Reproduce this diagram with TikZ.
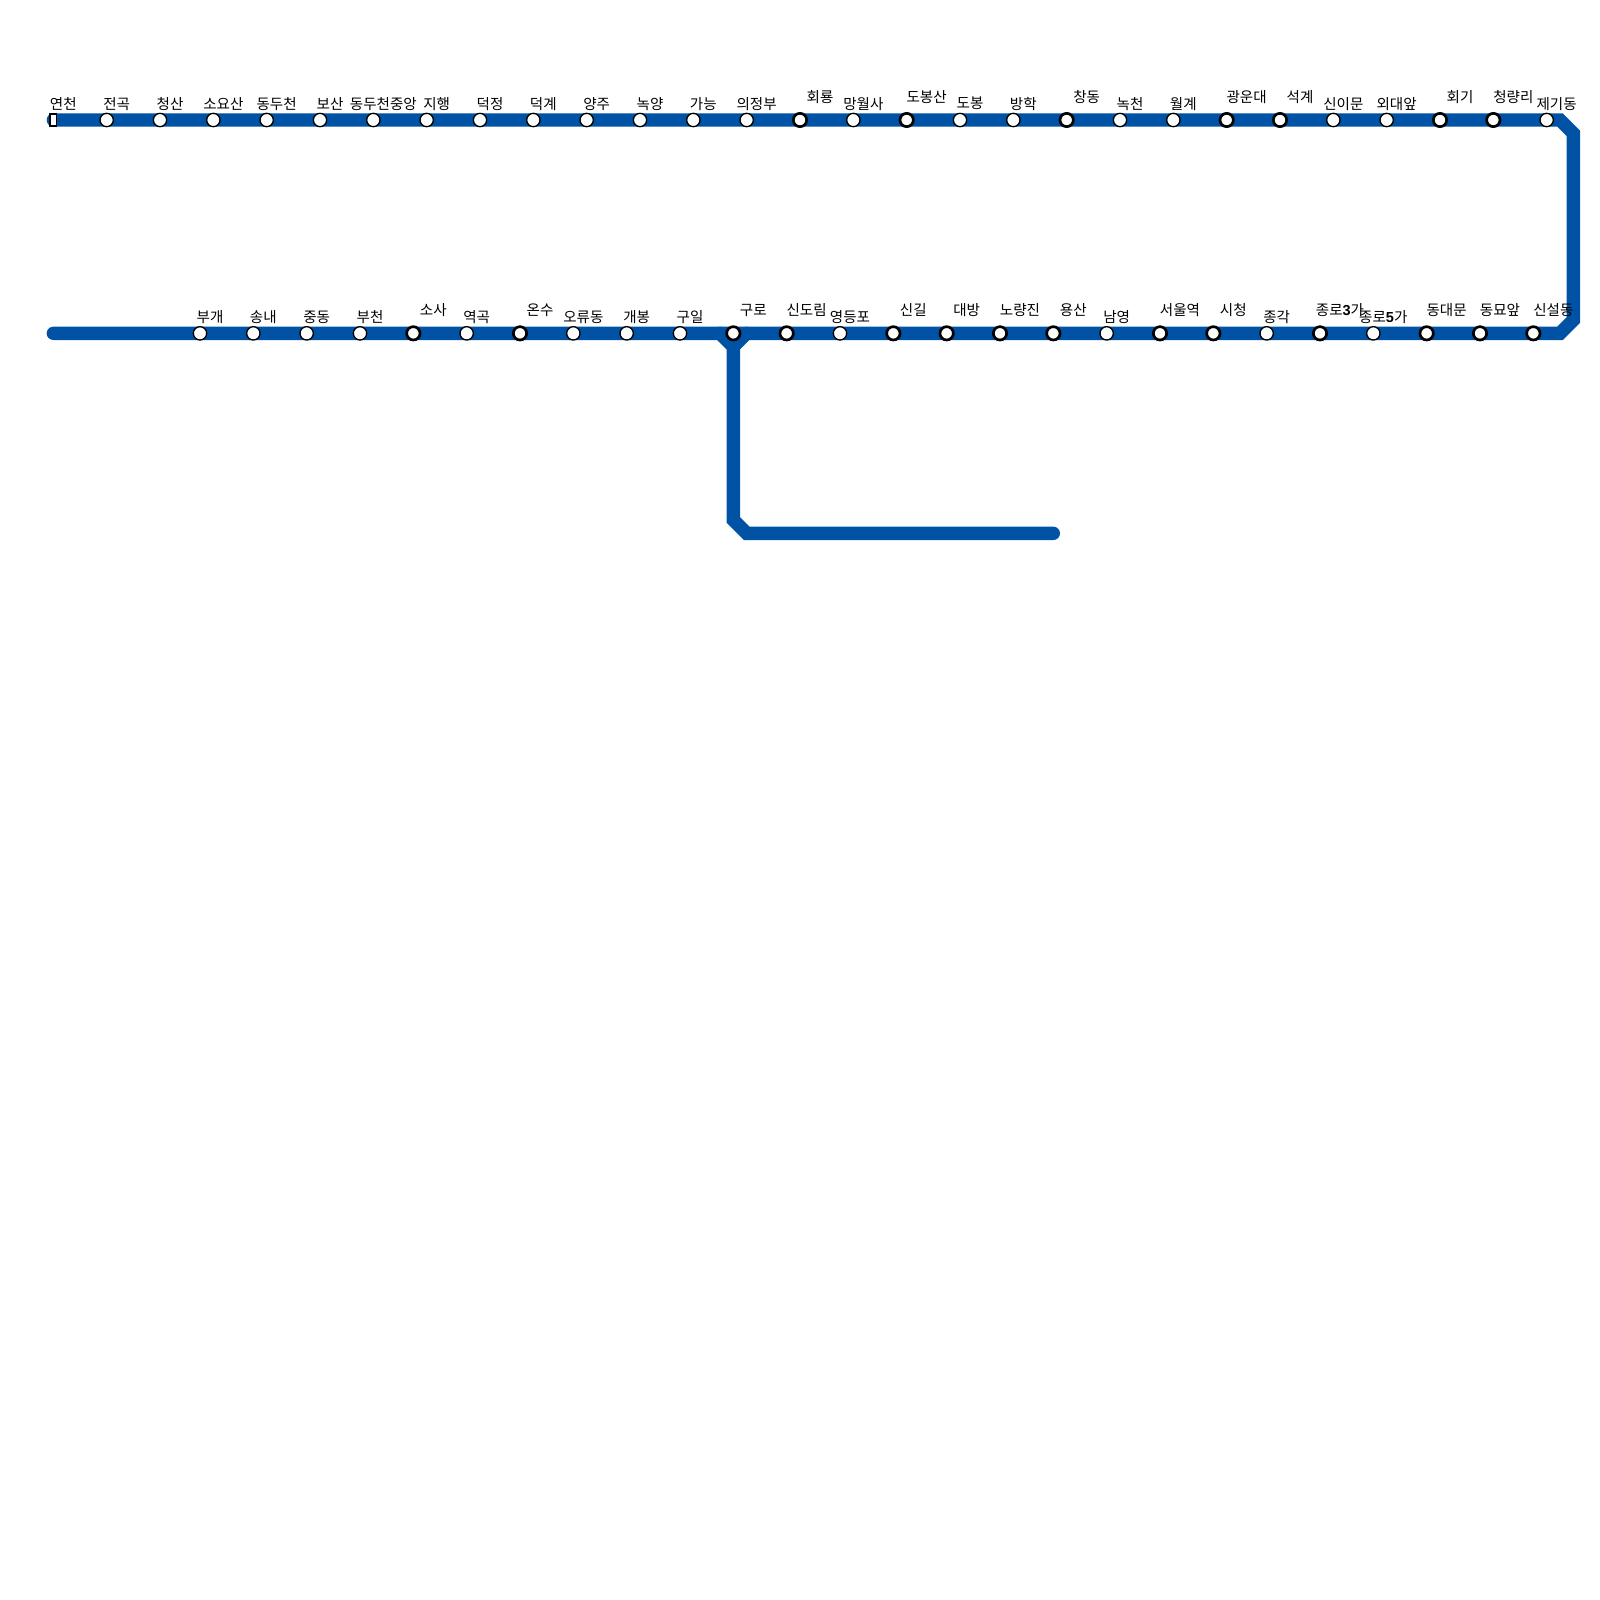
\documentclass[tikz,border=0pt]{standalone}
\usepackage{fontspec}
\setmainfont{Noto Sans CJK KR}
\newfontfamily\digitfont{Liberation Sans}
\usepackage{xcolor}
\usetikzlibrary{calc,positioning}
\definecolor{lineblue}{HTML}{0052A4}
\newcommand{\dg}[1]{{\digitfont\bfseries #1}}

\begin{document}
\begin{tikzpicture}[x=0.75pt, y=-0.75pt, font=\fontsize{10.9pt}{13pt}\selectfont,
    track/.style={draw=lineblue, line width=10pt, line cap=round, line join=miter},
    stn/.style={circle, draw=black, fill=white, line width=1pt, minimum size=10pt, inner sep=0pt},
    xfer/.style={circle, draw=black, fill=white, line width=2pt, minimum size=10pt, inner sep=0pt},
    term/.style={rectangle, draw=black, fill=white, line width=1pt, minimum width=5pt,
                 minimum height=9pt, inner sep=0pt},
    stn-name/.style={inner sep=0pt, text=black, xshift=7.5pt, yshift=12.25pt},
    term-name/.style={stn-name},
    xfer-name/.style={inner sep=0pt, text=black, xshift=15pt, yshift=17.5pt}]
  \useasboundingbox (0,0) rectangle (1600,1600);
  \coordinate (topend) at (53.33,120);
  \coordinate (topbend) at (1560,120);
  \coordinate (sidetop) at (1573.33,133.33);
  \coordinate (sidebot) at (1573.33,320);
  \coordinate (lowbend) at (1560,333.33);
  \coordinate (lowend) at (53.33,333.33);
  \coordinate (forkl) at (720,333.33);
  \coordinate (forkr) at (746.67,333.33);
  \coordinate (forkm) at (733.33,346.67);
  \coordinate (spurbot) at (733.33,520);
  \coordinate (spurbend) at (746.67,533.33);
  \coordinate (spurend) at (1053.33,533.33);
  \draw[track] (topend) -- (topbend) -- (sidetop) -- (sidebot) -- (lowbend) -- (lowend);
  \draw[track] (forkl) -- (forkm) -- (spurbot) -- (spurbend) -- (spurend);
  \draw[track] (forkr) -- (forkm);
  \foreach \k/\t/\st in {0/연천/term, 1/전곡/stn, 2/청산/stn, 3/소요산/stn, 4/동두천/stn,
      5/보산/stn, 6/동두천중앙/stn, 7/지행/stn, 8/덕정/stn, 9/덕계/stn, 10/양주/stn,
      11/녹양/stn, 12/가능/stn, 13/의정부/stn, 14/회룡/xfer, 15/망월사/stn, 16/도봉산/xfer,
      17/도봉/stn, 18/방학/stn, 19/창동/xfer, 20/녹천/stn, 21/월계/stn, 22/광운대/xfer,
      23/석계/xfer, 24/신이문/stn, 25/외대앞/stn, 26/회기/xfer, 27/청량리/xfer, 28/제기동/stn} {
    \node[\st] (a\k) at ({53.333*(\k+1)},120) {};
    \node[\st-name] (a\k-name) at (a\k) {\t};
  }
  \foreach \k/\t/\st in {0/부개/stn, 1/송내/stn, 2/중동/stn, 3/부천/stn, 4/소사/xfer,
      5/역곡/stn, 6/온수/xfer, 7/오류동/stn, 8/개봉/stn, 9/구일/stn, 10/구로/xfer,
      11/신도림/xfer, 12/영등포/stn, 13/신길/xfer, 14/대방/xfer, 15/노량진/xfer, 16/용산/xfer,
      17/남영/stn, 18/서울역/xfer, 19/시청/xfer, 20/종각/stn, 21/종로\dg{3}가/xfer,
      22/종로\dg{5}가/stn, 23/동대문/xfer, 24/동묘앞/xfer, 25/신설동/xfer} {
    \node[\st] (b\k) at ({200+53.333*\k},333.33) {};
    \node[\st-name] (b\k-name) at (b\k) {\t};
  }
\end{tikzpicture}
\end{document}
